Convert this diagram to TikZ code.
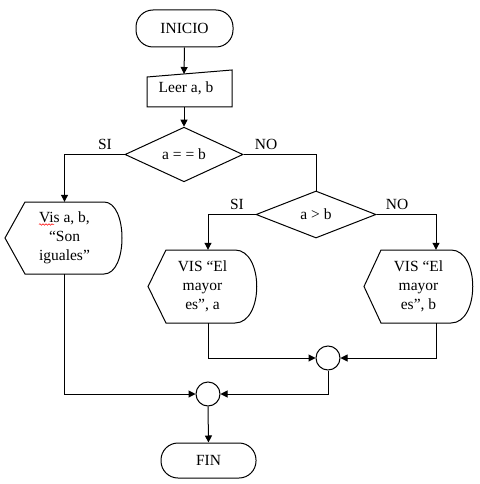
\documentclass[tikz,border=0pt]{standalone}
\usepackage{fontspec}
\setmainfont{Liberation Serif}
\usetikzlibrary{arrows.meta,shapes.geometric,calc,decorations.pathmorphing}
\begin{document}
\begin{tikzpicture}[x=1pt,y=-1pt,
  every node/.style={font=\fontsize{15.5pt}{19pt}\selectfont},
  ln/.style={line width=1pt,draw=black},
  arr/.style={ln,-{Triangle[length=7pt,width=7pt]}},
  term/.style={ln,rounded corners=17pt,inner sep=0pt},
  dec/.style={ln,diamond,inner sep=0pt},
  box/.style={draw=none,inner sep=0pt,align=center},
  junc/.style={ln,circle,minimum size=24pt,inner sep=0pt},
  lbl/.style={inner sep=0pt}]
\useasboundingbox (0,0) rectangle (479,484);
\fill[white] (0,0) rectangle (479,484);

% terminals
\node[term,minimum width=97pt,minimum height=37pt] (inicio) at (184.5,28.5) {INICIO};
\node[term,minimum width=95pt,minimum height=35pt] (fin) at (208.5,460.5) {FIN};

% manual input
\node[box,minimum width=85pt,minimum height=37pt] (leer) at (189.5,88.5) {\hspace*{-7pt}Leer a, b};
\draw[ln] (147,77) -- (232,70) -- (232,107) -- (147,107) -- cycle;
\coordinate (lt) at (184,74);

% decisions
\node[dec,minimum width=118pt,minimum height=47pt] (d1) at (184,154.5) {a = = b};
\node[dec,minimum width=120pt,minimum height=47pt] (d2) at (316,214.5) {a > b};

% display boxes
\node[box,minimum width=119pt,minimum height=72pt] (vis) at (64.5,238) {Vis a, b,\\``Son\\iguales''};
\draw[ln] (5,238) -- (25,202) -- (104,202) .. controls (128,202) and (128,274) .. (104,274) -- (25,274) -- cycle;
\draw[red,line width=0.5pt,decorate,decoration={snake,amplitude=0.8pt,segment length=3pt}] (39,224.5) -- (54,224.5);

\node[box,minimum width=109pt,minimum height=73pt] (b2) at (202.5,286.5) {VIS ``El\\mayor\\es'', a};
\draw[ln] (148,286.5) -- (166,250) -- (235,250) .. controls (264,250) and (264,323) .. (235,323) -- (166,323) -- cycle;

\node[box,minimum width=109pt,minimum height=73pt] (b3) at (418.5,286.5) {VIS ``El\\mayor\\es'', b};
\draw[ln] (364,286.5) -- (381,250) -- (451,250) .. controls (480,250) and (480,323) .. (451,323) -- (381,323) -- cycle;

% junctions
\node[junc] (c1) at (328,358) {};
\node[junc] (c2) at (208,394) {};

% labels
\node[lbl] (si1) at (105,144) {SI};
\node[lbl] (no1) at (266,144) {NO};
\node[lbl] (si2) at (237,204) {SI};
\node[lbl] (no2) at (397,204) {NO};

% connectors
\draw[arr] (inicio.south) -- (lt);
\draw[arr] (leer.south -| d1.north) -- (d1.north);
\draw[arr] (d1.west) -| (vis.north);
\draw[ln] (d1.east) -| (d2.north);
\draw[arr] (d2.west) -| ($(b2.north)+(5.5,0)$);
\draw[arr] (d2.east) -| ($(b3.north)+(17.5,0)$);
\draw[arr] ($(b2.south)+(5.5,0)$) |- (c1.west);
\draw[arr] ($(b3.south)+(17.5,0)$) |- (c1.east);
\draw[arr] (c1.south) |- (c2.east);
\draw[arr] (vis.south) |- (c2.west);
\draw[arr] (c2.south) -- (fin.north);
\end{tikzpicture}
\end{document}
